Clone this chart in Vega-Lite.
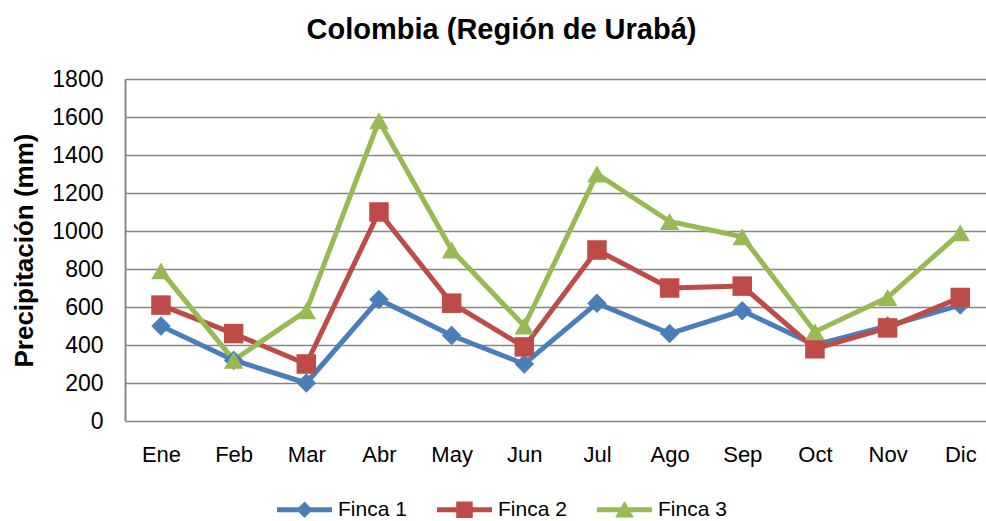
{
  "$schema": "https://vega.github.io/schema/vega-lite/v6.json",
  "width": 861,
  "height": 342,
  "autosize": {"type": "none"},
  "padding": {"left": 125, "top": 79, "right": 0, "bottom": 100},
  "background": "white",
  "title": {
    "text": "Colombia (Región de Urabá)",
    "font": "Liberation Sans",
    "fontSize": 29,
    "fontWeight": "bold",
    "color": "#000000",
    "anchor": "middle",
    "dx": -54,
    "offset": 23
  },
  "config": {
    "view": {"stroke": null},
    "font": "Liberation Sans"
  },
  "data": {
    "values": [
      {"mes": "Ene", "serie": "Finca 1", "valor": 500},
      {"mes": "Feb", "serie": "Finca 1", "valor": 320},
      {"mes": "Mar", "serie": "Finca 1", "valor": 200},
      {"mes": "Abr", "serie": "Finca 1", "valor": 640},
      {"mes": "May", "serie": "Finca 1", "valor": 450},
      {"mes": "Jun", "serie": "Finca 1", "valor": 300},
      {"mes": "Jul", "serie": "Finca 1", "valor": 620},
      {"mes": "Ago", "serie": "Finca 1", "valor": 460},
      {"mes": "Sep", "serie": "Finca 1", "valor": 580},
      {"mes": "Oct", "serie": "Finca 1", "valor": 400},
      {"mes": "Nov", "serie": "Finca 1", "valor": 500},
      {"mes": "Dic", "serie": "Finca 1", "valor": 610},
      {"mes": "Ene", "serie": "Finca 2", "valor": 610},
      {"mes": "Feb", "serie": "Finca 2", "valor": 460},
      {"mes": "Mar", "serie": "Finca 2", "valor": 300},
      {"mes": "Abr", "serie": "Finca 2", "valor": 1100},
      {"mes": "May", "serie": "Finca 2", "valor": 620},
      {"mes": "Jun", "serie": "Finca 2", "valor": 390},
      {"mes": "Jul", "serie": "Finca 2", "valor": 900},
      {"mes": "Ago", "serie": "Finca 2", "valor": 700},
      {"mes": "Sep", "serie": "Finca 2", "valor": 710},
      {"mes": "Oct", "serie": "Finca 2", "valor": 380},
      {"mes": "Nov", "serie": "Finca 2", "valor": 490},
      {"mes": "Dic", "serie": "Finca 2", "valor": 650},
      {"mes": "Ene", "serie": "Finca 3", "valor": 790},
      {"mes": "Feb", "serie": "Finca 3", "valor": 320},
      {"mes": "Mar", "serie": "Finca 3", "valor": 580},
      {"mes": "Abr", "serie": "Finca 3", "valor": 1580},
      {"mes": "May", "serie": "Finca 3", "valor": 900},
      {"mes": "Jun", "serie": "Finca 3", "valor": 500},
      {"mes": "Jul", "serie": "Finca 3", "valor": 1300},
      {"mes": "Ago", "serie": "Finca 3", "valor": 1050},
      {"mes": "Sep", "serie": "Finca 3", "valor": 970},
      {"mes": "Oct", "serie": "Finca 3", "valor": 470},
      {"mes": "Nov", "serie": "Finca 3", "valor": 650},
      {"mes": "Dic", "serie": "Finca 3", "valor": 990}
    ]
  },
  "encoding": {
    "x": {
      "field": "mes",
      "type": "nominal",
      "sort": ["Ene", "Feb", "Mar", "Abr", "May", "Jun", "Jul", "Ago", "Sep", "Oct", "Nov", "Dic"],
      "scale": {"type": "point", "padding": 0.4246, "align": 0.583},
      "axis": {
        "title": null,
        "labelAngle": 0,
        "labelFontSize": 22,
        "labelColor": "#000000",
        "labelPadding": 23,
        "ticks": false,
        "domain": false,
        "grid": false
      }
    },
    "y": {
      "field": "valor",
      "type": "quantitative",
      "scale": {"domain": [0, 1800], "nice": false},
      "axis": {
        "values": [0, 200, 400, 600, 800, 1000, 1200, 1400, 1600, 1800],
        "format": "d",
        "title": "Precipitación (mm)",
        "titleFontSize": 26,
        "titleFontWeight": "bold",
        "titleColor": "#000000",
        "titlePadding": 14,
        "labelFontSize": 23,
        "labelColor": "#000000",
        "labelPadding": 22,
        "ticks": false,
        "domain": true,
        "domainColor": "#868686",
        "domainWidth": 2,
        "grid": true,
        "gridColor": "#868686",
        "gridWidth": 1.5
      }
    },
    "color": {
      "field": "serie",
      "type": "nominal",
      "scale": {"domain": ["Finca 1", "Finca 2", "Finca 3"], "range": ["#4A7EBB", "#BE4B48", "#98B954"]},
      "legend": {
        "title": null,
        "orient": "none",
        "legendX": 152,
        "legendY": 403,
        "direction": "horizontal",
        "padding": 0,
        "labelFontSize": 21,
        "labelColor": "#000000",
        "labelOffset": 6,
        "symbolSize": 3025,
        "columnPadding": 30,
        "encode": {
          "symbols": {
            "update": {
              "shape": {"signal": "datum.value === 'Finca 1' ? 'M-1,-0.09L1,-0.09L1,0.09L-1,0.09Z M0,-0.3L0.3,0L0,0.3L-0.3,0Z' : datum.value === 'Finca 2' ? 'M-1,-0.09L1,-0.09L1,0.09L-1,0.09Z M-0.3,-0.3L0.3,-0.3L0.3,0.3L-0.3,0.3Z' : 'M-1,-0.09L1,-0.09L1,0.09L-1,0.09Z M0,-0.32L0.34,0.28L-0.34,0.28Z'"},
              "fill": {"scale": "color", "field": "value"},
              "fillOpacity": {"value": 1},
              "strokeWidth": {"value": 0}
            }
          }
        }
      }
    }
  },
  "layer": [
    {
      "mark": {"type": "line", "strokeWidth": 5}
    },
    {
      "transform": [{"filter": "datum.serie === 'Finca 1'"}],
      "mark": {"type": "point", "filled": true, "opacity": 1, "size": 380, "shape": "diamond"}
    },
    {
      "transform": [{"filter": "datum.serie === 'Finca 2'"}],
      "mark": {"type": "point", "filled": true, "opacity": 1, "size": 380, "shape": "square"}
    },
    {
      "transform": [{"filter": "datum.serie === 'Finca 3'"}],
      "mark": {"type": "point", "filled": true, "opacity": 1, "size": 380, "shape": "triangle-up"}
    }
  ]
}
